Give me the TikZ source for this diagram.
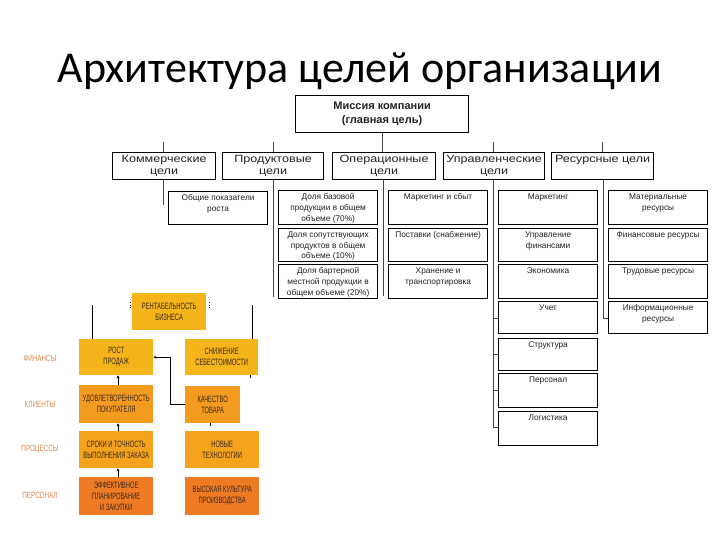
\documentclass[tikz,border=0pt]{standalone}
\usepackage{fontspec}
\setmainfont{Liberation Sans}
\newfontfamily\titlef{Carlito}
\newfontfamily\widef[FakeStretch=1.2]{Liberation Sans}
\newfontfamily\narrowf[FakeStretch=0.63]{Liberation Sans}
\newfontfamily\sidef[FakeStretch=0.7]{Liberation Sans}
\usetikzlibrary{arrows.meta}
\definecolor{gold}{HTML}{F4B41A}
\definecolor{orA}{HTML}{F39B1F}
\definecolor{orB}{HTML}{F5A21D}
\definecolor{orC}{HTML}{EE7B24}
\definecolor{lbl}{HTML}{E08A50}
\definecolor{otxt}{HTML}{3B2B1A}
\definecolor{conn}{HTML}{444444}
\definecolor{btxt}{HTML}{222222}
\newcommand\bx[7][]{\node[box,#1,anchor=north west] (#2) at (#3,#4) {\parbox[c][#6pt][t]{#5pt}{\centering\vspace*{3pt}#7\par}};}
\begin{document}
\begin{tikzpicture}[x=1pt,y=-1pt,
  box/.style={draw=black,line width=1.2pt,inner sep=0pt,fill=white,text=btxt},
  lone/.style={font=\widef\fontsize{10.5}{11.5}\selectfont},
  ltwo/.style={font=\fontsize{8.3}{10.8}\selectfont},
  obox/.style={inner sep=0pt,anchor=north west,align=center,text=otxt,
    font=\narrowf\fontsize{9.2}{11}\selectfont},
  side/.style={text=lbl,font=\sidef\fontsize{9}{10}\selectfont},
  conn/.style={draw=conn,line width=0.9pt},
  arr/.style={draw=black,line width=0.8pt,-{Stealth[length=3pt,width=3pt]}}]
\useasboundingbox[fill=white] (0,0) rectangle (720,540);

\node[anchor=base,font=\titlef\fontsize{44}{50}\selectfont] (title) at (360,83) {Архитектура целей организации};

% mission
\node[box,anchor=north west,minimum width=173pt,minimum height=37pt,align=center,
  font=\bfseries\fontsize{11}{14}\selectfont] (m) at (295,95) {Миссия компании\\(главная цель)};

% level 1
\bx[lone]{k1}{112}{152}{103}{27}{Коммерческие\\цели}
\bx[lone]{k2}{222}{152}{101}{27}{Продуктовые\\цели}
\bx[lone]{k3}{332}{152}{103}{27}{Операционные\\цели}
\bx[lone]{k4}{443}{152}{101}{27}{Управленческие\\цели}
\bx[lone]{k5}{551}{152}{102}{27}{Ресурсные цели}

\coordinate (s1) at (163,142);
\coordinate (s2) at (273,142);
\coordinate (s4) at (493,142);
\coordinate (s5) at (602,142);
\draw[conn] (m.south) -- (m.south |- k3.north);
\draw[conn] (s1) -- (s1 |- k1.north);
\draw[conn] (s2) -- (s2 |- k2.north);
\draw[conn] (s4) -- (s4 |- k4.north);
\draw[conn] (s5) -- (s5 |- k5.north);

% level 2
\bx[ltwo]{ob}{168}{191}{99}{33}{Общие показатели\\роста}
\bx[ltwo]{p1}{278}{190}{99}{34}{Доля базовой\\продукции в общем\\объеме (70\%)}
\bx[ltwo]{p2}{278}{228}{99}{33}{Доля сопутствующих\\продуктов в общем\\объеме (10\%)}
\bx[ltwo]{p3}{278}{264}{99}{34}{Доля бартерной\\местной продукции в\\общем объеме (20\%)}
\bx[ltwo]{o1}{388}{190}{99}{34}{Маркетинг и сбыт}
\bx[ltwo]{o2}{388}{228}{99}{33}{Поставки (снабжение)}
\bx[ltwo]{o3}{388}{264}{99}{34}{Хранение и\\транспортировка}
\bx[ltwo]{u1}{498}{190}{99}{34}{Маркетинг}
\bx[ltwo]{u2}{498}{228}{99}{33}{Управление\\финансами}
\bx[ltwo]{u3}{498}{264}{99}{34}{Экономика}
\bx[ltwo]{u4}{498}{301}{99}{32}{Учет}
\bx[ltwo]{u5}{498}{338}{99}{32}{Структура}
\bx[ltwo]{u6}{498}{373}{99}{34}{Персонал}
\bx[ltwo]{u7}{498}{411}{99}{34}{Логистика}
\bx[ltwo]{r1}{608}{190}{99}{34}{Материальные\\ресурсы}
\bx[ltwo]{r2}{608}{228}{99}{33}{Финансовые ресурсы}
\bx[ltwo]{r3}{608}{264}{99}{34}{Трудовые ресурсы}
\bx[ltwo]{r4}{608}{301}{99}{32}{Информационные\\ресурсы}

\coordinate (d1) at (163,205);
\coordinate (d2) at (273,297);
\coordinate (d3) at (383,296);
\coordinate (d4) at (493,427);
\coordinate (d5) at (603,318);
\draw[conn] (d1 |- k1.south) -- (d1);
\draw[conn] (d2 |- k2.south) -- (d2);
\draw[conn] (d3 |- k3.south) -- (d3);
\draw[conn] (d4 |- k4.south) -- (d4) -- (d4 -| u7.west);
\draw[conn] (d5 |- k5.south) -- (d5) -- (d5 -| r4.west);
\coordinate (t4) at (493,318);
\coordinate (t5) at (493,354);
\coordinate (t6) at (493,390);
\draw[conn] (t4) -- (t4 -| u4.west);
\draw[conn] (t5) -- (t5 -| u5.west);
\draw[conn] (t6) -- (t6 -| u6.west);

% balanced scorecard part
\node[obox,fill=gold,minimum width=74pt,minimum height=37pt] (rent) at (132,293) {РЕНТАБЕЛЬНОСТЬ\\БИЗНЕСА};
\node[obox,fill=gold,minimum width=74pt,minimum height=36pt] (rost) at (79,339) {РОСТ\\ПРОДАЖ};
\node[obox,fill=gold,minimum width=73pt,minimum height=36pt] (snizh) at (185,339) {СНИЖЕНИЕ\\СЕБЕСТОИМОСТИ};
\node[obox,fill=orA,minimum width=74pt,minimum height=38pt] (udov) at (79,385) {УДОВЛЕТВОРЕННОСТЬ\\ПОКУПАТЕЛЯ};
\node[obox,fill=orA,minimum width=55pt,minimum height=37pt] (kach) at (185,386) {КАЧЕСТВО\\ТОВАРА};
\node[obox,fill=orB,minimum width=74pt,minimum height=37pt] (srok) at (79,431) {СРОКИ И ТОЧНОСТЬ\\ВЫПОЛНЕНИЯ ЗАКАЗА};
\node[obox,fill=orB,minimum width=74pt,minimum height=37pt] (nov) at (185,431) {НОВЫЕ\\ТЕХНОЛОГИИ};
\node[obox,fill=orC,minimum width=74pt,minimum height=38pt] (eff) at (79,477) {ЭФФЕКТИВНОЕ\\ПЛАНИРОВАНИЕ\\И ЗАКУПКИ};
\node[obox,fill=orC,minimum width=74pt,minimum height=38pt] (vys) at (185,477) {ВЫСОКАЯ КУЛЬТУРА\\ПРОИЗВОДСТВА};

\node[side] (fin) at (40,358) {ФИНАНСЫ};
\node[side] (kli) at (40,404) {КЛИЕНТЫ};
\node[side] (pro) at (40,449) {ПРОЦЕССЫ};
\node[side] (per) at (40,495) {ПЕРСОНАЛ};

\coordinate (ra) at (92,305);
\coordinate (sa) at (252,305);
\draw[black,line width=0.8pt] (rost.north -| ra) -- (ra);
\draw[black,line width=0.8pt] (snizh.north -| sa) -- (sa);
\coordinate (tl) at (130,302);
\coordinate (tr) at (209,302);
\draw[black,line width=0.6pt,dotted] (tl) -- ++(0,6);
\draw[black,line width=0.6pt,dotted] (tr) -- ++(0,6);
\draw[arr] (kach.west) -- ++(-15,0) |- (rost.east);
\coordinate (ax) at (118,0);
\draw[arr] (udov.north -| ax) -- (rost.south -| ax);
\draw[arr] (srok.north -| ax) -- (udov.south -| ax);
\draw[arr] (eff.north -| ax) -- (srok.south -| ax);
\coordinate (bs) at (250,0);
\coordinate (bk) at (210,0);
\draw[black,line width=0.7pt] (snizh.south -| bs) -- ++(0,3);
\draw[black,line width=0.7pt] (kach.south -| bk) -- ++(0,3);
\end{tikzpicture}
\end{document}
